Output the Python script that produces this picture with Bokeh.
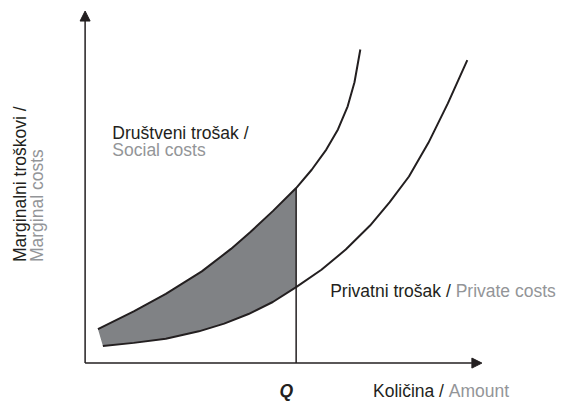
import math
from bokeh.plotting import figure
from bokeh.models import Range1d, Arrow, NormalHead, Label
from bokeh.embed import file_html
from bokeh.resources import INLINE

# Social (društveni) marginal cost curve: quantity / cost
social_q = [0.33, 1.25, 2.075, 3.0, 3.75, 4.2425, 4.825, 5.425, 5.825, 6.2, 6.5, 6.75, 6.925, 7.075]
social_cost = [0.957, 1.455, 1.951, 2.583, 3.217, 3.686, 4.282, 4.932, 5.447, 6.016, 6.585, 7.236, 7.913, 8.835]

# Private (privatni) marginal cost curve
private_q = [0.4575, 1.25, 2.075, 2.925, 3.575, 4.2, 4.825, 5.425, 6.075, 6.7, 7.325, 7.825, 8.325, 8.825, 9.325, 9.825]
private_cost = [0.480, 0.569, 0.686, 0.894, 1.111, 1.382, 1.721, 2.141, 2.629, 3.198, 3.875, 4.526, 5.257, 6.206, 7.317, 8.537]

Q = 5.425
x_axis_end = 10.2
y_axis_end = 9.92

BLACK = "#231f20"
GREY = "#939598"
FILL = "#808285"
FONT = "Liberation Sans"
FS = "17.5px"

p = figure(width=566, height=402, output_backend="svg", toolbar_location=None,
           x_range=Range1d(-2.175, 12.375), y_range=Range1d(-1.1111, 10.2168),
           x_axis_location=None, y_axis_location=None, min_border=0,
           outline_line_color=None, background_fill_color="white",
           border_fill_color="white")
p.grid.visible = False

# shaded area between curves up to Q
iq_s = social_q.index(Q)
iq_p = private_q.index(Q)
poly_x = social_q[:iq_s + 1] + private_q[:iq_p + 1][::-1]
poly_y = social_cost[:iq_s + 1] + private_cost[:iq_p + 1][::-1]
p.patch(poly_x, poly_y, fill_color=FILL, line_color=None)

# curves
p.line(social_q, social_cost, line_color=BLACK, line_width=2)
p.line(private_q, private_cost, line_color=BLACK, line_width=2)

# Q line
p.segment(x0=[Q], y0=[0], x1=[Q], y1=[social_cost[iq_s]], line_color=BLACK, line_width=1.5)

# axes with arrows
p.add_layout(Arrow(end=NormalHead(size=10, fill_color=BLACK, line_color=BLACK, line_width=1),
                   x_start=0, y_start=0, x_end=x_axis_end, y_end=0,
                   line_color=BLACK, line_width=1.5))
p.add_layout(Arrow(end=NormalHead(size=10, fill_color=BLACK, line_color=BLACK, line_width=1),
                   x_start=0, y_start=0, x_end=0, y_end=y_axis_end,
                   line_color=BLACK, line_width=1.5))

def lab(x, y, t, color, angle=0, align="left", style="normal"):
    p.add_layout(Label(x=x, y=y, text=t, text_color=color, text_font=FONT,
                       text_font_size=FS, text_align=align,
                       text_baseline="alphabetic", angle=angle,
                       text_font_style=style))

lab(0.7, 6.47, "Društveni trošak /", BLACK)
lab(0.7, 5.99, "Social costs", GREY)
lab(6.3, 2.04, "Privatni trošak /", BLACK)
lab(9.525, 2.04, "Private costs", GREY)
lab(5.175, -0.80, "Q", BLACK, align="center", style="bold italic")
lab(7.4, -0.80, "Količina /", BLACK)
lab(9.35, -0.80, "Amount", GREY)
lab(-1.67, 2.846, "Marginalni troškovi /", BLACK, angle=math.pi / 2)
lab(-1.225, 2.846, "Marginal costs", GREY, angle=math.pi / 2)

open("out.html", "w").write(file_html(p, INLINE))
